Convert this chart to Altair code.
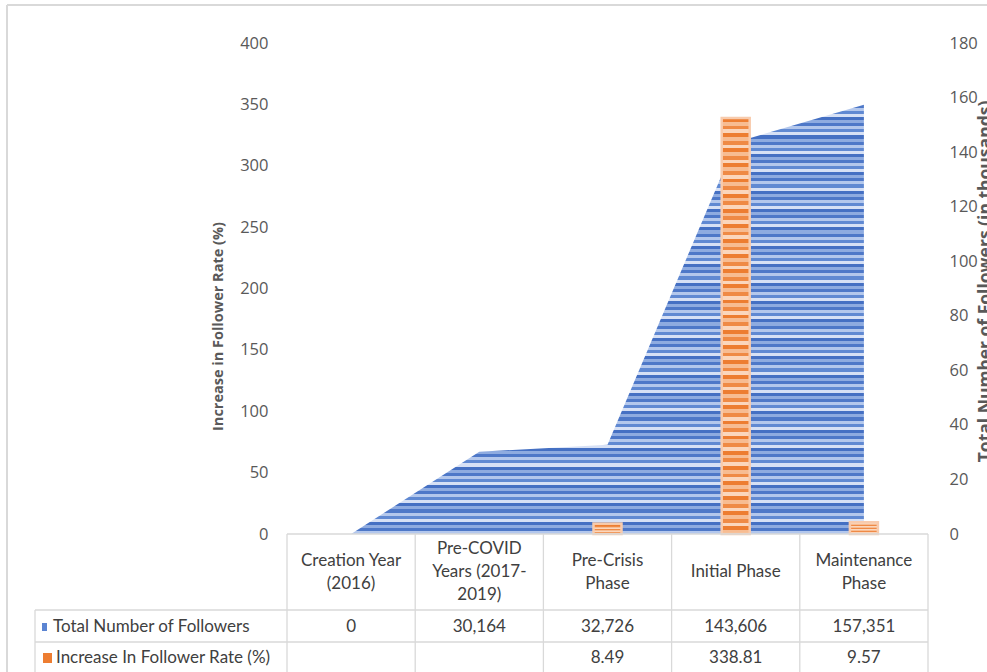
import altair as alt
import pandas as pd

# ---- data ----
categories = [
    "Creation Year (2016)",
    "Pre-COVID Years (2017-2019)",
    "Pre-Crisis Phase",
    "Initial Phase",
    "Maintenance Phase",
]
header_labels = [
    "Creation Year\n(2016)",
    "Pre-COVID\nYears (2017-\n2019)",
    "Pre-Crisis\nPhase",
    "Initial Phase",
    "Maintenance\nPhase",
]
total_followers = [0, 30164, 32726, 143606, 157351]
increase_rate = [None, None, 8.49, 338.81, 9.57]
rate_ticks = list(range(0, 401, 50))
follower_ticks = list(range(0, 181, 20))

series_names = ["Total Number of Followers", "Increase In Follower Rate (%)"]

df = pd.DataFrame({
    "cat": categories,
    "header": header_labels,
    "followers_k": [f / 1000 for f in total_followers],
    "followers_txt": [f"{f:,}" for f in total_followers],
    "rate": increase_rate,
    "rate_txt": ["" if r is None else f"{r:.2f}" for r in increase_rate],
})

# ---- styling ----
W, H = 641, 491
PAD = {"left": 287, "top": 43, "right": 59, "bottom": 138}
TABLE_FONT = "Lato"
TABLE_SIZE = 17
AXIS_FONT = "Open Sans"
GRID_COL = "#D9D9D9"
LINE_H = 23


def stripes(pattern, n):
    stops = []
    for i in range(n):
        c = pattern[i % len(pattern)]
        stops.append(alt.GradientStop(offset=i / n, color=c))
        stops.append(alt.GradientStop(offset=(i + 1) / n, color=c))
    return alt.Gradient(gradient="linear", stops=stops, x1=0, x2=0, y1=0, y2=1)


blue_fill = stripes(["#4E78C8", "#B3C7EC", "#6089D2", "#D6E0F5", "#4570C3", "#8EABE0"], 140)
orange_fill = stripes(["#ED7D31", "#F7BC92", "#EF8A45", "#FBD6BC"], 110)

xscale = alt.Scale(domain=categories, paddingInner=0, paddingOuter=0)


def X(band=0.5):
    return alt.X("cat:N", scale=xscale, axis=None, bandPosition=band, sort=categories)


base = alt.Chart(df)

area = base.mark_area(color=blue_fill, interpolate="linear").encode(
    x=X(0.5),
    y=alt.Y(
        "followers_k:Q",
        scale=alt.Scale(domain=[0, 180], nice=False),
        axis=alt.Axis(
            orient="right",
            values=follower_ticks,
            grid=False,
            domain=False,
            ticks=False,
            labelPadding=21,
            labelFont=AXIS_FONT,
            labelFontSize=16.5,
            labelColor="#595959",
            title="Total Number of Followers (in thousands)",
            titleFont=AXIS_FONT,
            titleFontSize=17.5,
            titleFontWeight="bold",
            titleColor="#595959",
            titleAngle=270,
            titleAlign="center",
            titleBaseline="middle",
            titleX=57,
            titleY=238,
        ),
    ),
)

bars = base.mark_bar(
    color=orange_fill, width=28, stroke="#F8CBAD", strokeWidth=2.5
).encode(
    x=X(0.5),
    y=alt.Y(
        "rate:Q",
        scale=alt.Scale(domain=[0, 400], nice=False),
        axis=alt.Axis(
            orient="left",
            values=rate_ticks,
            grid=False,
            domain=False,
            ticks=False,
            labelPadding=19,
            labelFont=AXIS_FONT,
            labelFontSize=16.5,
            labelColor="#595959",
            title="Increase in Follower Rate (%)",
            titleFont=AXIS_FONT,
            titleFontSize=14.5,
            titleFontWeight="bold",
            titleColor="#595959",
            titleAngle=270,
            titleAlign="center",
            titleBaseline="middle",
            titleX=-69,
            titleY=283,
        ),
    ),
)

# ---- data table under the plot ----
vlines = base.mark_rule(color=GRID_COL, strokeWidth=1.3).encode(
    x=X(0), y=alt.value(H), y2=alt.value(640)
)
vline_last = alt.Chart(df.tail(1)).mark_rule(color=GRID_COL, strokeWidth=1.3).encode(
    x=X(1), y=alt.value(H), y2=alt.value(640)
)

one = pd.DataFrame({"k": [0]})


def rule(**enc):
    return alt.Chart(one).mark_rule(color=GRID_COL, strokeWidth=1.3).encode(**enc)


hlines = alt.layer(
    rule(x=alt.value(0), x2=alt.value(W), y=alt.value(H)),
    rule(x=alt.value(-252), x2=alt.value(W), y=alt.value(567)),
    rule(x=alt.value(-252), x2=alt.value(W), y=alt.value(599)),
    rule(x=alt.value(-252), y=alt.value(567), y2=alt.value(640)),
    # outer chart frame
    alt.Chart(one).mark_rule(color=GRID_COL, strokeWidth=2).encode(
        x=alt.value(-280), x2=alt.value(710), y=alt.value(-38)),
    alt.Chart(one).mark_rule(color=GRID_COL, strokeWidth=2).encode(
        x=alt.value(-280), y=alt.value(-38), y2=alt.value(640)),
)

HEADER_MID = 529
header_layers = []
for n in (1, 2, 3):
    header_layers.append(
        base.transform_calculate(nl="length(split(datum.header, '\\n'))")
        .transform_filter(f"datum.nl == {n}")
        .mark_text(
            font=TABLE_FONT, fontSize=TABLE_SIZE, color="#404040", lineBreak="\n",
            lineHeight=LINE_H, baseline="middle", align="center",
        )
        .encode(x=X(0.5), y=alt.value(HEADER_MID - (n - 1) * LINE_H / 2), text="header:N")
    )
header_text = alt.layer(*header_layers)

row1_text = base.mark_text(
    font=TABLE_FONT, fontSize=TABLE_SIZE, color="#404040", baseline="middle", align="center"
).encode(x=X(0.5), y=alt.value(584), text="followers_txt:N")

row2_text = base.mark_text(
    font=TABLE_FONT, fontSize=TABLE_SIZE, color="#404040", baseline="middle", align="center"
).encode(x=X(0.5), y=alt.value(615), text="rate_txt:N")

legend_df = pd.DataFrame({"name": series_names})
legend_text = alt.layer(
    alt.Chart(legend_df.head(1)).mark_text(
        font=TABLE_FONT, fontSize=TABLE_SIZE, color="#404040", baseline="middle", align="left"
    ).encode(x=alt.value(-234), y=alt.value(584), text="name:N"),
    alt.Chart(legend_df.tail(1)).mark_text(
        font=TABLE_FONT, fontSize=TABLE_SIZE, color="#404040", baseline="middle", align="left"
    ).encode(x=alt.value(-231), y=alt.value(615), text="name:N"),
    alt.Chart(one).mark_rect(color="#5B84D2").encode(
        x=alt.value(-245), x2=alt.value(-240), y=alt.value(580), y2=alt.value(588)),
    alt.Chart(one).mark_rect(color="#ED7D31").encode(
        x=alt.value(-244), x2=alt.value(-235), y=alt.value(610), y2=alt.value(620)),
)

chart = (
    alt.layer(area, bars, vlines, vline_last, hlines, header_text, row1_text,
              row2_text, legend_text)
    .resolve_scale(y="independent")
    .properties(
        width=W, height=H, padding=PAD,
        autosize=alt.AutoSizeParams(type="none"),
        background="white",
    )
    .configure_view(strokeWidth=0)
)

chart.save("out.html", embed_options={"renderer": "svg", "actions": False})
